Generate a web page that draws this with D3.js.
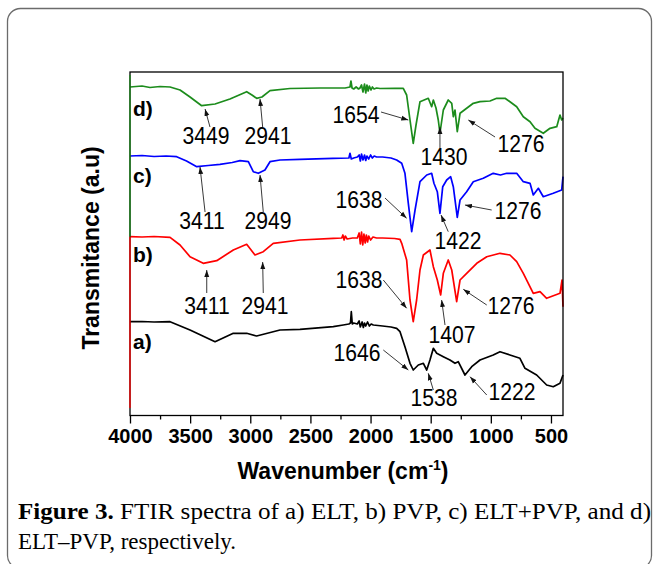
<!DOCTYPE html>
<html><head><meta charset="utf-8">
<script src="https://cdn.jsdelivr.net/npm/d3@7"></script>
<style>
html,body{margin:0;padding:0;background:#fff;}
svg{display:block;}
</style></head>
<body>
<svg id="chart" width="657" height="564"></svg>
<script>
// ---------------- data (wavenumber cm-1, transmittance a.u., stacked) ----------------
const seriesNames = ["a)", "b)", "c)", "d)"];
const seriesColors = ["#000000", "#ff0000", "#0000ff", "#1c8c1c"];

const spectrumD = [[4000,329],[3900,330],[3834,328.5],[3750,329.5],[3667,329],[3584,326],[3501,319],[3404,310.3],[3293,312],[3169,317],[3030,324.3],[2986,321],[2947,317.7],[2903,319],[2836,325.3],[2670,327.5],[2420,328],[2212,328],[2171,329],[2163,335],[2154,328],[2140,327],[2120,329],[2100,327],[2088,328],[2075,331],[2063,324],[2050,332],[2040,323],[2030,331],[2020,325],[2010,330],[1996,326],[1985,329],[1971,327],[1950,328],[1921,327.5],[1797,327.7],[1728,327.7],[1700,321],[1672,296],[1645,272.7],[1622,291],[1589,314.3],[1520,317.7],[1492,309.3],[1478,316],[1456,308],[1437,296],[1423,283],[1395,306],[1354,316],[1325,312.7],[1312,299.3],[1298,306],[1279,284.3],[1256,302.7],[1201,307.7],[1146,312.7],[1090,314.3],[1007,315],[951,317.7],[882,317.7],[841,314.3],[785,309.3],[730,299.3],[674,294.3],[633,287.7],[564,282.7],[508,287.7],[452,289.3],[425,301],[411,296],[400,298]];

const spectrumC = [[4000,260],[3900,260.5],[3800,259.5],[3700,260],[3612,259.3],[3530,255],[3445,249.3],[3350,250.5],[3252,251.7],[3150,253.5],[3085,255.3],[3016,254.3],[2975,244.3],[2933,242.7],[2878,246],[2836,254.3],[2753,256],[2587,256.7],[2312,257.7],[2180,258],[2171,262.7],[2160,257],[2140,258],[2110,259],[2095,261],[2085,255],[2075,262],[2063,256],[2050,261],[2040,255.5],[2030,260],[2015,257],[2000,261],[1985,258],[1970,260],[1950,259],[1900,259],[1830,258],[1783,256],[1741,252.7],[1714,242.7],[1686,212.7],[1658,184.3],[1630,206],[1589,234.3],[1533,241],[1492,242.7],[1473,232.7],[1445,224.3],[1423,202.7],[1400,229.3],[1367,236],[1334,239.3],[1312,229.3],[1279,198.7],[1256,216],[1201,224.3],[1146,234.3],[1063,237.7],[980,242.7],[920,241],[868,242.7],[785,242.7],[730,234.3],[674,232.7],[647,221],[605,227.7],[564,219.3],[481,222.7],[411,226],[400,239.3]];

const spectrumB = [[4000,179.3],[3900,179],[3800,179.5],[3667,178.7],[3584,171],[3501,159.3],[3391,152.7],[3279,155.3],[3141,166],[3030,171.7],[2961,161],[2892,164.3],[2809,172.7],[2587,176],[2310,177.7],[2240,178],[2230,181],[2220,176],[2210,180],[2195,177],[2150,178],[2110,178],[2095,183],[2085,172],[2075,184],[2065,171],[2055,182],[2045,173],[2035,181],[2025,174],[2015,180],[2000,176],[1980,179],[1950,178],[1900,178],[1800,177.5],[1755,176.7],[1741,172.7],[1700,156],[1672,116],[1645,94.3],[1617,116],[1589,146],[1561,161],[1506,166],[1478,149.3],[1445,136],[1417,121],[1395,142.7],[1354,156],[1325,146],[1284,114.3],[1256,136],[1201,142.7],[1117,152.7],[1034,159.3],[924,162.7],[841,161],[785,154.3],[730,142.7],[647,122.7],[591,124.3],[536,117.7],[425,122.7],[408,136],[400,109.3]];

const spectrumA = [[4000,94.3],[3900,94.5],[3800,94],[3667,94.3],[3501,86],[3293,74.3],[3141,82.7],[3030,82.7],[2947,80],[2753,86],[2587,86.7],[2310,89.3],[2227,91],[2180,92],[2167,93],[2160,104.3],[2152,92],[2140,93],[2110,92],[2095,95],[2085,89],[2070,94],[2060,88.5],[2050,93],[2040,90],[2025,94],[2010,90],[1995,92],[1977,91],[1900,90],[1830,89],[1783,87.7],[1755,84.3],[1714,69.3],[1672,52.7],[1645,46],[1603,51],[1561,52.7],[1533,46],[1506,56],[1478,67.7],[1450,62.7],[1395,59.3],[1340,56],[1298,52.7],[1271,54.3],[1215,41],[1159,49.3],[1090,56],[980,61],[924,64.3],[841,61],[758,57.7],[716,47.7],[619,41],[536,31],[481,29.3],[425,32.7],[400,41]];

const spectra = [spectrumA, spectrumB, spectrumC, spectrumD];
const seriesLabelAt = [[3975,74],[3975,161],[3975,240],[3975,307]];

const xTicks = [4000, 3500, 3000, 2500, 2000, 1500, 1000, 500];
const xMinorTicks = [3750, 3250, 2750, 2250, 1750, 1250, 750];

// peak annotations: label text, label centre, arrow start, arrow tip (data units)
const peakLabels = ["3449","2941","1654","1430","1276",
                    "3411","2949","1638","1422","1276",
                    "3411","2941","1638","1407","1276",
                    "1646","1538","1222"];
const peakLabelAt = [[3368,280],[2853,280],[2121,301],[1389,259],[749,272],
                     [3401,195],[2853,195],[2096,216],[1273,175],[774,205],
                     [3360,110],[2878,110],[2096,136],[1323,81],[832,110],
                     [2113,63],[1473,18],[824,24]];
const arrowFrom = [[3335,289],[2897,289],[1913,304],[1423,268],[965,279],
                   [3376,204],[2892,204],[1880,218],[1354,184.3],[993,206],
                   [3362,123],[2892,123],[1894,136],[1381,91],[1034,111],
                   [1894,66],[1478,26],[1034,21]];
const arrowTip = [[3376,307],[2919,317],[1686,296],[1423,289],[1187,296],
                  [3418,249],[2919,241],[1700,197.7],[1414,201],[1215,211],
                  [3362,146],[2897,154],[1700,107.7],[1409,116],[1229,126.7],
                  [1686,46],[1520,42.7],[1173,39.3]];

const xTitle = "Wavenumber (cm";
const yTitle = "Transmitance (a.u)";
const captionBold = "Figure 3.";
const captionLine1 = " FTIR spectra of a) ELT, b) PVP, c) ELT+PVP, and d)";
const captionLine2 = "ELT–PVP, respectively.";

// ---------------- drawing ----------------
(function () {
const svg = d3.select("#chart");
const pL = 130, pR = 563, pT = 72, pB = 416;
const x = d3.scaleLinear().domain([4000, 400]).range([pL, pR]);
const y = d3.scaleLinear().domain([0, 344]).range([pB, pT]);
const sans = "'Liberation Sans', Arial, sans-serif";
const serif = "'Liberation Serif', 'Times New Roman', serif";

// outer rounded border
svg.append("rect").attr("x", 7.5).attr("y", 8.5).attr("width", 644).attr("height", 560)
  .attr("rx", 13).attr("fill", "none").attr("stroke", "#6b6b6b").attr("stroke-width", 1.3);

// arrowhead marker
svg.append("defs").append("marker").attr("id", "ah")
  .attr("viewBox", "0 0 10 10").attr("refX", 10).attr("refY", 5)
  .attr("markerWidth", 7).attr("markerHeight", 7).attr("markerUnits", "userSpaceOnUse")
  .attr("orient", "auto")
  .append("path").attr("d", "M0,1.5 L10,5 L0,8.5 Z").attr("fill", "#111");

// spectra
const line = d3.line().x(d => x(d[0])).y(d => y(d[1]));
const g = svg.append("g");
spectra.forEach((s, i) => {
  g.append("path").datum(s).attr("d", line).attr("fill", "none")
    .attr("stroke", seriesColors[i]).attr("stroke-width", 1.7).attr("stroke-linejoin", "round");
});

// frame
svg.append("rect").attr("x", pL).attr("y", pT).attr("width", pR - pL).attr("height", pB - 0.5 - pT)
  .attr("fill", "none").attr("stroke", "#000").attr("stroke-width", 1.3);
// coloured left edge (as in the original)
svg.append("line").attr("x1", pL).attr("x2", pL).attr("y1", y(spectrumD[0][1]) - 12).attr("y2", y(spectrumB[0][1]))
  .attr("stroke", seriesColors[3]).attr("stroke-width", 1.3);
svg.append("line").attr("x1", pL).attr("x2", pL).attr("y1", y(spectrumB[0][1])).attr("y2", y(8))
  .attr("stroke", seriesColors[1]).attr("stroke-width", 1.3);

// x axis
const axis = svg.append("g").attr("transform", `translate(0,${pB - 0.5})`)
  .call(d3.axisBottom(x).tickValues(xTicks).tickSize(8).tickSizeOuter(0).tickPadding(5).tickFormat(d3.format("d")));
axis.select(".domain").remove();
axis.selectAll("line").attr("stroke", "#000").attr("stroke-width", 1.3);
axis.selectAll("text").attr("font-family", sans).attr("font-weight", "bold").attr("font-size", 20).attr("fill", "#000");
const minor = svg.append("g").attr("transform", `translate(0,${pB - 0.5})`)
  .call(d3.axisBottom(x).tickValues(xMinorTicks).tickSize(4).tickSizeOuter(0).tickFormat(""));
minor.select(".domain").remove();
minor.selectAll("line").attr("stroke", "#000").attr("stroke-width", 1.3);

// axis titles
const xt = svg.append("text").attr("x", 343).attr("y", 479).attr("text-anchor", "middle")
  .attr("font-family", sans).attr("font-weight", "bold").attr("font-size", 23).attr("fill", "#000");
xt.append("tspan").text(xTitle);
xt.append("tspan").attr("dy", -9).attr("font-size", 14).text("-1");
xt.append("tspan").attr("dy", 9).text(")");

svg.append("text").attr("transform", "translate(99,248) rotate(-90)").attr("text-anchor", "middle")
  .attr("font-family", sans).attr("font-weight", "bold").attr("font-size", 23).attr("fill", "#000")
  .text(yTitle);

// series labels
seriesNames.forEach((n, i) => {
  svg.append("text").attr("x", x(seriesLabelAt[i][0])).attr("y", y(seriesLabelAt[i][1])).attr("dy", "0.35em")
    .attr("font-family", sans).attr("font-weight", "bold").attr("font-size", 21).attr("fill", "#000").text(n);
});

// peak annotations
const ann = svg.append("g");
peakLabels.forEach((t, i) => {
  ann.append("line")
    .attr("x1", x(arrowFrom[i][0])).attr("y1", y(arrowFrom[i][1]))
    .attr("x2", x(arrowTip[i][0])).attr("y2", y(arrowTip[i][1]))
    .attr("stroke", "#222").attr("stroke-width", 0.9).attr("marker-end", "url(#ah)");
  ann.append("text")
    .attr("transform", `translate(${x(peakLabelAt[i][0])},${y(peakLabelAt[i][1])}) scale(0.92,1)`)
    .attr("dy", "0.36em").attr("text-anchor", "middle")
    .attr("font-family", sans).attr("font-size", 23).attr("fill", "#000").text(t);
});

// caption
const cap = svg.append("text").attr("x", 18).attr("y", 519)
  .attr("font-family", serif).attr("font-size", 23).attr("fill", "#000")
  .attr("textLength", 633).attr("lengthAdjust", "spacingAndGlyphs");
cap.append("tspan").attr("font-weight", "bold").text(captionBold);
cap.append("tspan").text(captionLine1);
svg.append("text").attr("x", 18).attr("y", 549)
  .attr("font-family", serif).attr("font-size", 23).attr("fill", "#000").text(captionLine2);
})();
</script>
</body></html>
